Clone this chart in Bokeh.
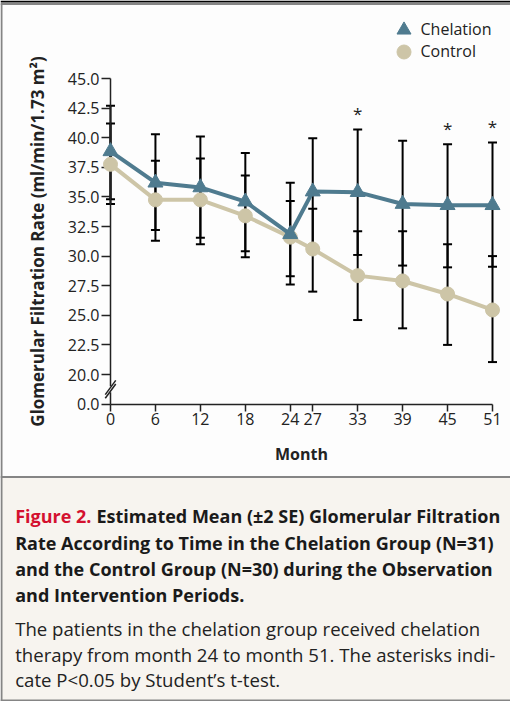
import numpy as np
from bokeh.plotting import figure
from bokeh.models import ColumnDataSource, FixedTicker, Legend, LegendItem, Range1d
from bokeh.embed import file_html
from bokeh.resources import INLINE
from bokeh.core.properties import value

# ---------------- data ----------------
months = [0, 6, 12, 18, 24, 27, 33, 39, 45, 51]
chel_mean = [38.85, 36.2, 35.8, 34.6, 31.85, 35.45, 35.4, 34.4, 34.3, 34.3]
chel_upper = [42.7, 40.3, 40.1, 38.7, 36.2, 39.95, 40.7, 39.75, 39.45, 39.6]
chel_lower = [34.8, 32.2, 31.55, 30.4, 27.6, 30.9, 30.1, 29.2, 29.05, 29.1]
ctrl_mean = [37.75, 34.75, 34.75, 33.4, 31.6, 30.6, 28.35, 27.9, 26.8, 25.45]
ctrl_upper = [41.2, 38.05, 38.25, 36.8, 34.65, 34.0, 32.1, 32.1, 31.0, 30.0]
ctrl_lower = [34.4, 31.3, 31.0, 29.9, 28.3, 27.0, 24.6, 23.9, 22.5, 21.05]
significant = [False, False, False, False, False, False, True, False, True, True]

series_names = ["Chelation", "Control"]
x_tick_values = months
y_tick_values = [17.5, 20.0, 22.5, 25.0, 27.5, 30.0, 32.5, 35.0, 37.5, 40.0, 42.5, 45.0]
y_tick_labels = ["0.0", "20.0", "22.5", "25.0", "27.5", "30.0", "32.5", "35.0",
                 "37.5", "40.0", "42.5", "45.0"]
x_label = "Month"
y_label = "Glomerular Filtration Rate (ml/min/1.73 m\u00b2)"

caption_red = "Figure 2."
caption_bold = [
    "Estimated Mean (\u00b12 SE) Glomerular Filtration",
    "Rate According to Time in the Chelation Group (N=31)",
    "and the Control Group (N=30) during the Observation",
    "and Intervention Periods.",
]
caption_plain = [
    "The patients in the chelation group received chelation",
    "therapy from month 24 to month 51. The asterisks indi-",
    "cate P<0.05 by Student\u2019s t-test.",
]

# ---------------- styles / layout (pixels) ----------------
FONT = "Open Sans"
CHEL = "#4f7b8f"
CTRL = "#cdc5a7"
INK = "#222222"
PANEL = "#fdfdfd"
CAPBG = "#f7f4ef"
BORDER = "#858585"
RED = "#d4112f"

W, H = 510, 701
X0 = 110.0              # canvas px of month 0
PXM = 382.0 / 51.0      # px per month
Y20 = 374.0             # canvas px of GFR 20
PYU = 11.84             # px per GFR unit


def vx(cx):
    return (cx - X0) / PXM


def vy(cy):
    return 20.0 + (Y20 - cy) / PYU


src = ColumnDataSource(dict(
    month=months, chel_mean=chel_mean, chel_upper=chel_upper, chel_lower=chel_lower,
    ctrl_mean=ctrl_mean, ctrl_upper=ctrl_upper, ctrl_lower=ctrl_lower,
))

p = figure(width=W, height=H,
           x_range=Range1d(vx(0), vx(W)), y_range=Range1d(vy(H), vy(0)),
           output_backend="svg", toolbar_location=None, min_border=0,
           background_fill_color=PANEL, border_fill_color=PANEL, outline_line_color=None)
p.grid.visible = False

# caption panel background and frame lines
p.quad(left=[vx(0)], right=[vx(W)], top=[vy(477)], bottom=[vy(H)],
       fill_color=CAPBG, line_color=None, level="underlay")
p.segment(x0=[vx(0)], y0=[vy(1)], x1=[vx(W)], y1=[vy(1)], line_color="black",
          line_width=2, level="underlay")
p.segment(x0=[vx(0), vx(0), vx(0), vx(1)], y0=[vy(3.5), vy(476.5), vy(700), vy(3)],
          x1=[vx(W), vx(W), vx(W), vx(1)], y1=[vy(3.5), vy(476.5), vy(700), vy(H)],
          line_color=BORDER, line_width=2, level="underlay")

# x axis
xa = p.xaxis[0]
xa.fixed_location = y_tick_values[0]
xa.ticker = FixedTicker(ticks=x_tick_values)
xa.bounds = (0, 51)
xa.axis_label = x_label
xa.axis_label_text_font = FONT
xa.axis_label_text_font_style = "bold"
xa.axis_label_text_font_size = "16px"
xa.axis_label_text_color = INK
xa.axis_label_standoff = 14
xa.major_label_text_font = FONT
xa.major_label_text_font_size = "16px"
xa.major_label_text_color = INK
xa.major_label_standoff = 2
xa.axis_line_color = INK
xa.axis_line_width = 1.5
xa.major_tick_line_color = INK
xa.major_tick_line_width = 1.5
xa.major_tick_out = 7
xa.major_tick_in = 0
xa.minor_tick_line_color = None

# y axis (broken between 0 and 20)
ya = p.yaxis[0]
ya.fixed_location = 0
ya.bounds = (y_tick_values[0], y_tick_values[-1])
ya.ticker = FixedTicker(ticks=y_tick_values)
ya.major_label_overrides = {v: l for v, l in zip(y_tick_values, y_tick_labels)}
ya.axis_label = y_label
ya.axis_label_text_font = FONT
ya.axis_label_text_font_style = "bold"
ya.axis_label_text_font_size = "17px"
ya.axis_label_text_color = INK
ya.axis_label_standoff = 16
ya.major_label_text_font = FONT
ya.major_label_text_font_size = "16px"
ya.major_label_text_color = INK
ya.major_label_standoff = 2
ya.axis_line_color = INK
ya.axis_line_width = 1.5
ya.major_tick_line_color = INK
ya.major_tick_line_width = 1.5
ya.major_tick_out = 9
ya.major_tick_in = 0
ya.minor_tick_line_color = None

# error bars (mean +/- 2 SE)
for lo, hi in [("chel_lower", "chel_upper"), ("ctrl_lower", "ctrl_upper")]:
    p.segment(x0="month", y0=lo, x1="month", y1=hi, source=src,
              line_color="black", line_width=2)
    p.scatter(x="month", y=hi, marker="dash", size=9, line_color="black",
              line_width=2, source=src)
    p.scatter(x="month", y=lo, marker="dash", size=9, line_color="black",
              line_width=2, source=src)

# series
p.line("month", "ctrl_mean", source=src, line_color=CTRL, line_width=4, level="overlay")
r_ctrl = p.scatter("month", "ctrl_mean", source=src, marker="circle", size=14,
                   fill_color=CTRL, line_color=CTRL, level="overlay")
p.line("month", "chel_mean", source=src, line_color=CHEL, line_width=4, level="overlay")
r_chel = p.scatter("month", "chel_mean", source=src, marker="triangle", size=15,
                   fill_color=CHEL, line_color=CHEL, level="overlay")

# significance asterisks above the upper error bar
sig_x = [m for m, s in zip(months, significant) if s]
sig_y = [max(a, b) for a, b, s in zip(chel_upper, ctrl_upper, significant) if s]
p.text(x=sig_x, y=sig_y, text=["*"] * len(sig_x), text_font=value(FONT),
       text_font_size="17px", text_color=INK, text_align="center",
       text_baseline="alphabetic", y_offset=-15.5)

# axis break marks
brk = (y_tick_values[0] + y_tick_values[1]) / 2
p.segment(x0=[0], y0=[brk - 0.25], x1=[0], y1=[brk + 0.25], line_color=PANEL,
          line_width=4, level="overlay")
p.segment(x0=[-0.7, -0.7], y0=[brk - 0.75, brk - 0.45], x1=[0.7, 0.7],
          y1=[brk + 0.45, brk + 0.75], line_color=INK, line_width=1.5, level="overlay")

# legend (one box per entry so the rows sit 22 px apart)
GB = 35
leg_cx, leg_cy = 403, [29, 51]
for name, rend, cy in zip(series_names, [r_chel, r_ctrl], leg_cy):
    lg = Legend(items=[LegendItem(label=name, renderers=[rend])],
                location=(leg_cx - GB / 2, H - (cy + GB / 2)),
                glyph_width=GB, glyph_height=GB, label_standoff=0, padding=0, margin=0,
                spacing=0, label_text_font=FONT, label_text_font_size="16px",
                label_text_color=INK, background_fill_alpha=0, border_line_color=None)
    p.add_layout(lg)

# caption text
bold_cy = [515.3, 542, 568, 594.3]
plain_cy = [627.7, 653.7, 679.3]
p.text(x=[vx(14.7)], y=[vy(bold_cy[0])], text=[caption_red], text_color=RED,
       text_font=value(FONT), text_font_style="bold", text_font_size="18px",
       text_baseline="alphabetic")
p.text(x=[vx(96)] + [vx(14.7)] * 3, y=[vy(c) for c in bold_cy], text=caption_bold,
       text_color="#1a1a1a", text_font=value(FONT), text_font_style="bold",
       text_font_size="18px", text_baseline="alphabetic")
p.text(x=[vx(14.7)] * 3, y=[vy(c) for c in plain_cy], text=caption_plain,
       text_color=INK, text_font=value(FONT), text_font_size="18.6px",
       text_baseline="alphabetic")

open("out.html", "w").write(file_html(p, INLINE))
